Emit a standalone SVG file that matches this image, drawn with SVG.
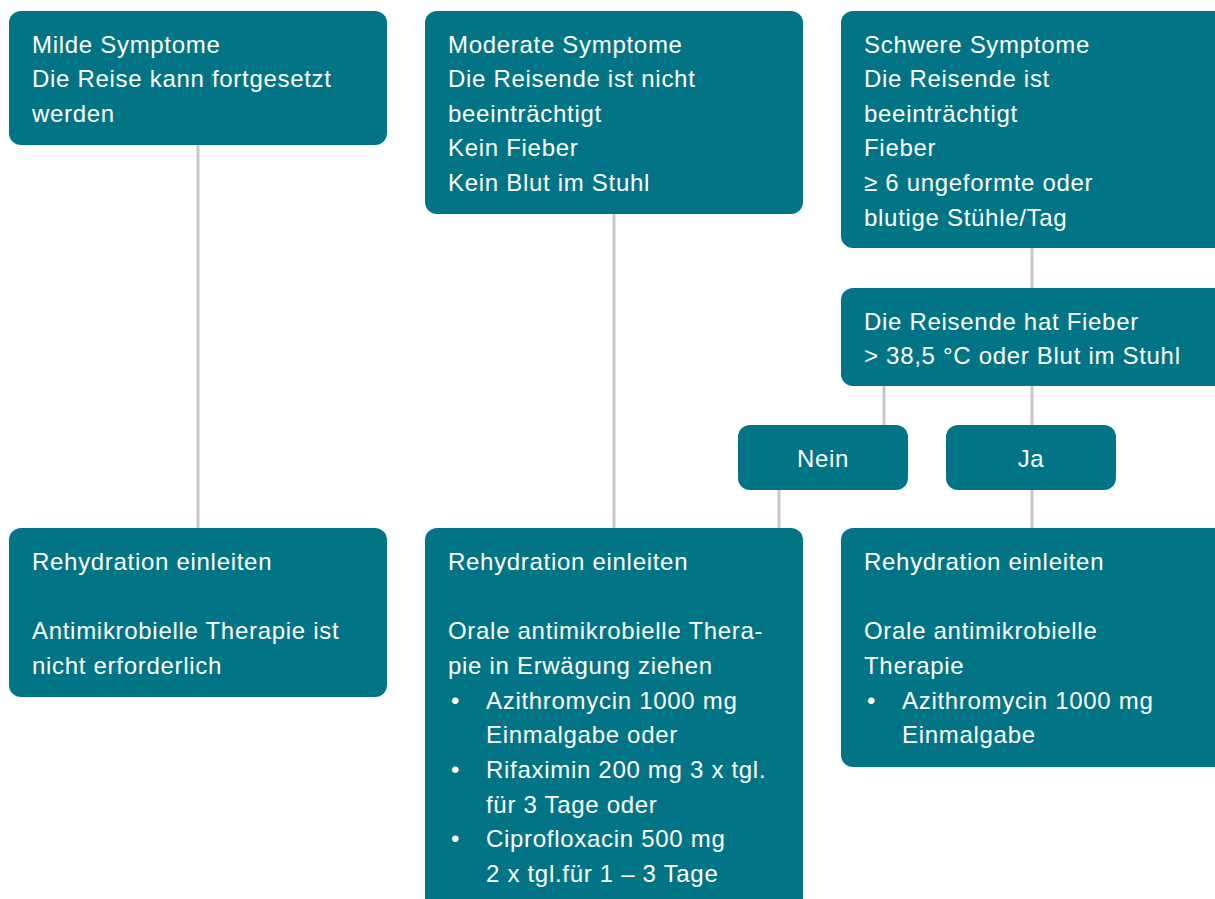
<svg xmlns="http://www.w3.org/2000/svg" width="1215" height="899" viewBox="0 0 1215 899">
<style>
.box{fill:#017585;}
.t{font-family:"Liberation Sans",Arial,sans-serif;font-size:24px;letter-spacing:0.7px;fill:#ffffff;}
.c{text-anchor:middle;}
.ln{stroke:#c8c8c8;stroke-width:3;fill:none;}
</style>
<rect width="1215" height="899" fill="#ffffff"/>
<g id="connectors">
<line class="ln" x1="198" y1="145" x2="198" y2="528"/>
<line class="ln" x1="614" y1="214" x2="614" y2="528"/>
<line class="ln" x1="1032" y1="248" x2="1032" y2="288"/>
<line class="ln" x1="1032" y1="386" x2="1032" y2="425"/>
<line class="ln" x1="884" y1="386" x2="884" y2="425"/>
<line class="ln" x1="1032" y1="490" x2="1032" y2="528"/>
<line class="ln" x1="779" y1="490" x2="779" y2="528"/>
</g>
<g id="mild">
<rect class="box" x="9" y="11" width="378" height="134" rx="12"/>
<text class="t" x="32" y="53">Milde Symptome</text>
<text class="t" x="32" y="87">Die Reise kann fortgesetzt</text>
<text class="t" x="32" y="122">werden</text>
</g>
<g id="moderate">
<rect class="box" x="425" y="11" width="378" height="203" rx="12"/>
<text class="t" x="448" y="53">Moderate Symptome</text>
<text class="t" x="448" y="87">Die Reisende ist nicht</text>
<text class="t" x="448" y="122">beeinträchtigt</text>
<text class="t" x="448" y="156">Kein Fieber</text>
<text class="t" x="448" y="191">Kein Blut im Stuhl</text>
</g>
<g id="severe">
<rect class="box" x="841" y="11" width="390" height="237" rx="12"/>
<text class="t" x="864" y="53">Schwere Symptome</text>
<text class="t" x="864" y="87">Die Reisende ist</text>
<text class="t" x="864" y="122">beeinträchtigt</text>
<text class="t" x="864" y="156">Fieber</text>
<text class="t" x="864" y="191">≥ 6 ungeformte oder</text>
<text class="t" x="864" y="226">blutige Stühle/Tag</text>
</g>
<g id="fever">
<rect class="box" x="841" y="288" width="390" height="98" rx="12"/>
<text class="t" x="864" y="330">Die Reisende hat Fieber</text>
<text class="t" x="864" y="364">&gt; 38,5 °C oder Blut im Stuhl</text>
</g>
<g id="nein">
<rect class="box" x="738" y="425" width="170" height="65" rx="12"/>
<text class="t c" x="823" y="467">Nein</text>
</g>
<g id="ja">
<rect class="box" x="946" y="425" width="170" height="65" rx="12"/>
<text class="t c" x="1031" y="467">Ja</text>
</g>
<g id="result-mild">
<rect class="box" x="9" y="528" width="378" height="169" rx="12"/>
<text class="t" x="32" y="570">Rehydration einleiten</text>
<text class="t" x="32" y="639">Antimikrobielle Therapie ist</text>
<text class="t" x="32" y="674">nicht erforderlich</text>
</g>
<g id="result-moderate">
<rect class="box" x="425" y="528" width="378" height="390" rx="12"/>
<text class="t" x="448" y="570">Rehydration einleiten</text>
<text class="t" x="448" y="639">Orale antimikrobielle Thera-</text>
<text class="t" x="448" y="674">pie in Erwägung ziehen</text>
<text class="t" x="451" y="709">•</text>
<text class="t" x="486" y="709">Azithromycin 1000 mg</text>
<text class="t" x="486" y="743">Einmalgabe oder</text>
<text class="t" x="451" y="778">•</text>
<text class="t" x="486" y="778">Rifaximin 200 mg 3 x tgl.</text>
<text class="t" x="486" y="813">für 3 Tage oder</text>
<text class="t" x="451" y="847">•</text>
<text class="t" x="486" y="847">Ciprofloxacin 500 mg</text>
<text class="t" x="486" y="882">2 x tgl.für 1 – 3 Tage</text>
</g>
<g id="result-severe">
<rect class="box" x="841" y="528" width="390" height="239" rx="12"/>
<text class="t" x="864" y="570">Rehydration einleiten</text>
<text class="t" x="864" y="639">Orale antimikrobielle</text>
<text class="t" x="864" y="674">Therapie</text>
<text class="t" x="867" y="709">•</text>
<text class="t" x="902" y="709">Azithromycin 1000 mg</text>
<text class="t" x="902" y="743">Einmalgabe</text>
</g>
</svg>
